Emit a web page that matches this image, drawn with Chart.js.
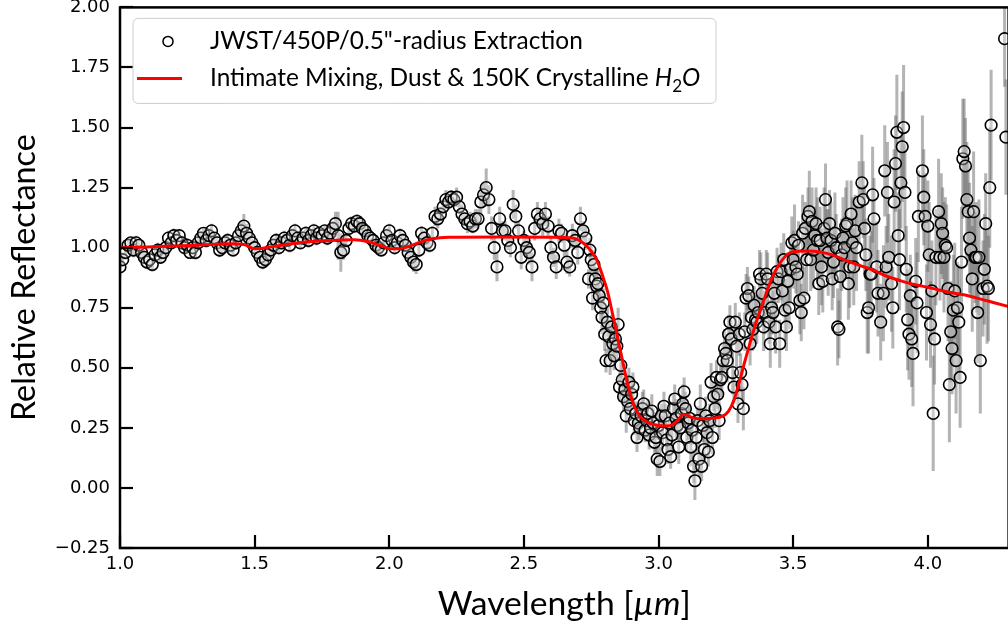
<!DOCTYPE html>
<html>
<head>
<meta charset="utf-8">
<title>Relative Reflectance</title>
<script src="https://cdn.jsdelivr.net/npm/chart.js@4.4.1/dist/chart.umd.min.js"></script>
<style>
  html, body { margin: 0; padding: 0; background: #fff; overflow: hidden; }
  #spectrumChart { display: block; }
</style>
</head>
<body>
<canvas id="spectrumChart" width="1016" height="628"></canvas>
<script>
// Axis limits and tick values
const xRange = [1.0, 4.3];
const yRange = [-0.25, 2.0];
const xTicks = [1.0, 1.5, 2.0, 2.5, 3.0, 3.5, 4.0];
const yTicks = [-0.25, 0.0, 0.25, 0.5, 0.75, 1.0, 1.25, 1.5, 1.75, 2.0];

// Legend labels
const dataLabel = 'JWST/450P/0.5"-radius Extraction';
const modelLabel = "Intimate Mixing, Dust & 150K Crystalline ";

// Measured spectrum: wavelength [um]
const wavelength = [
  1.00,1.01,1.02,1.03,1.04,1.05,1.06,1.07,1.08,1.09,
  1.10,1.11,1.12,1.13,1.14,1.15,1.16,1.17,1.18,1.19,
  1.20,1.21,1.22,1.23,1.24,1.25,1.26,1.27,1.28,1.29,
  1.30,1.31,1.32,1.33,1.34,1.35,1.36,1.37,1.38,1.39,
  1.40,1.41,1.42,1.43,1.44,1.45,1.46,1.47,1.48,1.49,
  1.50,1.51,1.52,1.53,1.54,1.55,1.56,1.57,1.58,1.59,
  1.60,1.61,1.62,1.63,1.64,1.65,1.66,1.67,1.68,1.69,
  1.70,1.71,1.72,1.73,1.74,1.75,1.76,1.77,1.78,1.79,
  1.80,1.81,1.82,1.83,1.84,1.85,1.86,1.87,1.88,1.89,
  1.90,1.91,1.92,1.93,1.94,1.95,1.96,1.97,1.98,1.99,
  2.00,2.01,2.02,2.03,2.04,2.05,2.06,2.07,2.08,2.09,
  2.10,2.11,2.12,2.13,2.14,2.15,2.16,2.17,2.18,2.19,
  2.20,2.21,2.22,2.23,2.24,2.25,2.26,2.27,2.28,2.29,
  2.30,2.31,2.32,2.33,2.34,2.35,2.36,2.37,2.38,2.39,
  2.40,2.41,2.42,2.43,2.44,2.45,2.46,2.47,2.48,2.49,
  2.50,2.51,2.52,2.53,2.54,2.55,2.56,2.57,2.58,2.59,
  2.60,2.61,2.62,2.63,2.64,2.65,2.66,2.67,2.68,2.69,
  2.70,2.71,2.72,2.73,2.74,
  2.745,2.750,2.755,2.760,2.765,2.770,2.775,2.780,2.785,2.790,
  2.795,2.800,2.805,2.810,2.815,2.820,2.825,2.830,2.835,2.840,
  2.845,2.850,2.855,2.860,2.865,2.870,2.875,2.880,2.885,2.890,
  2.895,2.900,2.905,2.910,2.915,2.920,2.925,2.930,2.935,2.940,
  2.945,2.950,2.955,2.960,2.965,2.970,2.975,2.980,2.985,2.990,
  2.995,3.000,3.005,3.010,3.015,3.020,3.025,3.030,3.035,3.040,
  3.045,3.050,3.055,3.060,3.065,3.070,3.075,3.080,3.085,3.090,
  3.095,3.100,3.105,3.110,3.115,3.120,3.125,3.130,3.135,3.140,
  3.145,3.150,3.155,3.160,3.165,3.170,3.175,3.180,3.185,3.190,
  3.195,3.200,3.205,3.210,3.215,3.220,3.225,3.230,3.235,3.240,
  3.245,3.250,3.255,3.260,3.265,3.270,3.275,3.280,3.285,3.290,
  3.295,3.300,3.305,3.310,3.315,3.320,3.325,3.330,3.335,3.340,
  3.345,3.350,3.355,3.360,3.365,3.370,3.375,3.380,3.385,3.390,
  3.395,3.400,3.405,3.410,3.415,3.420,3.425,3.430,3.435,3.440,
  3.445,
  3.450,3.455,3.460,3.465,3.470,3.475,3.480,3.485,3.490,3.495,
  3.500,3.505,3.510,3.515,3.520,3.525,3.530,3.535,3.540,3.545,
  3.550,3.555,3.560,3.565,3.570,3.575,3.580,3.585,3.590,3.595,
  3.600,3.605,3.610,3.615,3.620,3.625,3.630,3.635,3.640,3.645,
  3.650,3.655,3.660,3.665,3.670,3.675,3.680,3.685,3.690,3.695,
  3.700,3.705,3.710,3.715,3.720,3.725,3.730,3.735,3.745,3.755,
  3.760,3.765,3.770,3.775,3.780,3.785,3.790,3.795,3.800,3.810,
  3.815,3.825,3.835,3.840,3.845,3.850,3.855,3.865,3.870,3.875,
  3.880,3.885,3.890,3.895,3.900,3.905,3.910,3.915,3.920,3.925,
  3.930,3.935,3.940,3.945,3.955,3.960,3.965,3.980,3.985,3.990,
  3.995,4.000,4.005,4.010,4.015,4.020,4.025,4.030,4.040,4.045,
  4.050,4.055,4.060,4.065,4.070,4.075,4.080,4.085,4.090,4.095,
  4.100,4.105,4.110,4.115,4.120,4.125,4.130,4.135,4.140,4.145,
  4.150,4.155,4.160,4.165,4.170,4.175,4.180,4.185,4.190,4.195,
  4.205,4.210,4.215,4.220,4.225,4.230,4.235,4.285,4.290,
];

// Measured spectrum: relative reflectance
const reflectance = [
  0.92,0.95,0.98,1.01,1.02,0.99,1.02,1.01,0.98,0.96,
  0.94,0.95,0.93,0.97,0.99,0.96,0.98,1.00,1.04,1.02,
  1.05,1.03,1.05,1.02,1.00,1.01,0.98,1.00,0.98,1.02,
  1.04,1.06,1.03,1.05,1.07,1.04,1.02,0.99,1.00,1.02,
  1.03,1.01,0.99,1.02,1.05,1.07,1.09,1.06,1.04,1.02,
  1.00,0.98,0.96,0.94,0.95,0.97,0.99,1.01,1.03,1.00,
  1.02,1.04,1.03,1.01,1.05,1.07,1.04,1.02,1.04,1.06,
  1.03,1.05,1.07,1.04,1.06,1.05,1.07,1.04,1.06,1.08,
  1.10,1.05,0.98,0.99,1.03,1.08,1.10,1.09,1.11,1.10,
  1.08,1.07,1.05,1.04,1.03,1.01,1.00,0.99,1.02,1.05,
  1.07,1.03,1.00,1.02,1.05,1.03,1.01,0.98,0.96,0.94,
  0.93,0.99,1.06,1.04,1.02,1.01,1.06,1.13,1.12,1.14,
  1.17,1.20,1.19,1.21,1.20,1.21,1.17,1.14,1.12,1.10,
  1.11,1.09,1.12,1.12,1.19,1.22,1.25,1.20,1.08,1.00,
  0.92,1.12,1.07,1.07,1.03,1.00,1.18,1.13,1.07,0.96,
  1.03,1.00,0.98,0.92,1.08,1.14,1.12,1.10,1.14,1.09,
  1.00,0.96,0.92,1.07,1.06,1.01,0.94,0.92,1.05,1.03,
  0.98,1.12,1.07,1.04,0.87,
  0.99,0.95,0.79,0.93,0.87,0.84,0.85,0.80,0.75,0.71,
  0.77,0.64,0.53,0.69,0.63,0.53,0.67,0.60,0.55,0.62,
  0.59,0.68,0.42,0.51,0.45,0.38,0.41,0.30,0.36,0.44,
  0.33,0.39,0.42,0.28,0.31,0.21,0.27,0.25,0.30,0.33,
  0.35,0.24,0.28,0.31,0.22,0.25,0.32,0.27,0.19,0.21,
  0.12,0.26,0.11,0.30,0.23,0.34,0.30,0.20,0.16,0.27,
  0.13,0.22,0.33,0.37,0.29,0.26,0.17,0.25,0.31,0.35,
  0.40,0.33,0.21,0.27,0.29,0.17,0.24,0.09,0.03,0.21,
  0.28,0.12,0.35,0.09,0.26,0.16,0.30,0.23,0.15,0.28,
  0.44,0.21,0.38,0.33,0.46,0.39,0.28,0.45,0.46,0.53,
  0.58,0.56,0.53,0.64,0.69,0.62,0.48,0.42,0.69,0.59,
  0.35,0.64,0.48,0.43,0.33,0.65,0.79,0.83,0.80,0.60,
  0.71,0.66,0.76,0.70,0.69,0.73,0.89,0.87,0.81,0.67,
  0.73,0.89,0.87,0.69,0.60,0.75,0.73,0.81,0.67,0.90,
  0.87,
  0.60,0.90,0.82,0.95,0.74,0.67,0.86,0.75,0.91,1.02,
  0.95,1.03,0.92,0.89,1.01,0.78,0.73,1.06,0.79,1.08,
  0.95,1.13,1.15,0.95,1.11,0.99,1.05,1.10,1.03,0.85,
  1.03,0.92,0.86,1.08,1.20,1.04,0.98,1.10,1.03,0.87,
  0.94,1.06,1.00,0.67,0.66,0.88,0.97,1.04,1.00,1.09,
  1.10,0.85,0.92,1.14,1.02,0.92,1.07,1.00,1.19,1.27,
  1.20,1.08,0.97,0.73,0.75,0.89,0.89,1.22,1.12,0.92,
  0.81,0.69,0.81,1.32,0.92,1.23,0.96,0.85,0.75,1.19,
  1.35,1.48,1.05,0.95,1.27,1.42,1.50,1.23,0.91,0.70,
  0.64,0.80,0.62,0.56,0.86,0.77,1.13,1.32,1.21,1.13,
  0.73,1.09,0.97,0.68,0.82,0.31,0.62,0.96,1.15,0.96,
  1.10,1.06,0.96,1.01,1.00,0.83,0.43,0.65,0.58,0.74,
  0.82,0.53,0.75,0.69,0.46,0.94,1.37,1.40,1.34,1.20,
  1.15,1.04,0.99,0.87,1.15,0.96,0.96,0.73,0.96,0.53,
  0.83,0.91,1.10,0.84,0.83,1.25,1.51,1.87,1.46,
];

// Measured spectrum: 1-sigma uncertainty
const uncertainty = [
  0.04,0.03,0.03,0.03,0.02,0.03,0.03,0.02,0.03,0.03,
  0.03,0.02,0.03,0.03,0.03,0.02,0.03,0.03,0.03,0.02,
  0.03,0.03,0.02,0.03,0.03,0.03,0.02,0.03,0.03,0.03,
  0.03,0.02,0.03,0.03,0.03,0.02,0.03,0.03,0.02,0.03,
  0.03,0.03,0.02,0.03,0.03,0.04,0.05,0.04,0.03,0.03,
  0.03,0.03,0.02,0.03,0.03,0.03,0.02,0.03,0.03,0.03,
  0.03,0.03,0.02,0.03,0.03,0.03,0.03,0.02,0.03,0.03,
  0.03,0.02,0.03,0.03,0.03,0.03,0.02,0.03,0.03,0.03,
  0.05,0.10,0.08,0.04,0.03,0.03,0.03,0.02,0.03,0.03,
  0.03,0.03,0.03,0.02,0.03,0.03,0.03,0.02,0.03,0.03,
  0.03,0.03,0.03,0.03,0.03,0.03,0.03,0.04,0.04,0.04,
  0.04,0.03,0.03,0.03,0.03,0.03,0.03,0.04,0.04,0.03,
  0.03,0.04,0.03,0.03,0.03,0.04,0.03,0.04,0.03,0.04,
  0.04,0.03,0.04,0.04,0.06,0.05,0.08,0.06,0.05,0.05,
  0.06,0.05,0.04,0.04,0.04,0.04,0.06,0.05,0.04,0.05,
  0.04,0.04,0.05,0.06,0.05,0.05,0.04,0.05,0.05,0.04,
  0.05,0.04,0.05,0.05,0.04,0.05,0.05,0.04,0.05,0.04,
  0.05,0.05,0.04,0.05,0.04,
  0.05,0.06,0.05,0.06,0.05,0.07,0.06,0.05,0.06,0.07,
  0.06,0.07,0.05,0.06,0.07,0.06,0.05,0.07,0.06,0.05,
  0.06,0.07,0.06,0.05,0.07,0.06,0.05,0.07,0.06,0.06,
  0.05,0.07,0.06,0.06,0.05,0.06,0.07,0.05,0.06,0.07,
  0.06,0.05,0.07,0.06,0.06,0.05,0.07,0.06,0.05,0.06,
  0.07,0.06,0.06,0.05,0.07,0.06,0.05,0.07,0.06,0.06,
  0.05,0.07,0.06,0.06,0.08,0.06,0.07,0.06,0.07,0.08,
  0.06,0.07,0.06,0.07,0.06,0.08,0.06,0.07,0.08,0.07,
  0.06,0.07,0.08,0.06,0.07,0.06,0.08,0.07,0.06,0.07,
  0.08,0.07,0.06,0.08,0.07,0.06,0.08,0.07,0.08,0.07,
  0.08,0.07,0.09,0.08,0.07,0.08,0.09,0.07,0.08,0.09,
  0.08,0.09,0.08,0.07,0.09,0.08,0.10,0.09,0.08,0.09,
  0.10,0.09,0.08,0.10,0.09,0.08,0.10,0.11,0.09,0.10,
  0.09,0.10,0.11,0.09,0.10,0.11,0.09,0.10,0.11,0.10,
  0.10,
  0.10,0.12,0.09,0.11,0.13,0.10,0.12,0.09,0.14,0.11,
  0.12,0.15,0.11,0.13,0.10,0.14,0.12,0.16,0.13,0.11,
  0.15,0.12,0.17,0.13,0.14,0.16,0.12,0.15,0.18,0.13,
  0.14,0.16,0.13,0.17,0.15,0.12,0.18,0.14,0.16,0.13,
  0.15,0.17,0.14,0.16,0.12,0.18,0.15,0.17,0.13,0.16,
  0.18,0.15,0.17,0.14,0.19,0.16,0.15,0.18,0.17,0.20,
  0.16,0.18,0.15,0.17,0.19,0.16,0.18,0.20,0.17,0.19,
  0.18,0.16,0.20,0.19,0.17,0.21,0.18,0.20,0.17,0.22,
  0.20,0.24,0.18,0.21,0.19,0.23,0.26,0.20,0.18,0.21,
  0.19,0.17,0.20,0.22,0.18,0.21,0.19,0.23,0.20,0.18,
  0.20,0.19,0.22,0.18,0.21,0.24,0.19,0.20,0.22,0.18,
  0.21,0.19,0.23,0.20,0.18,0.22,0.24,0.21,0.19,0.23,
  0.20,0.22,0.19,0.24,0.21,0.23,0.25,0.22,0.20,0.24,
  0.21,0.23,0.20,0.22,0.25,0.19,0.23,0.21,0.24,0.22,
  0.20,0.23,0.21,0.24,0.22,0.25,0.23,0.20,0.24,
];

// Radiative transfer model (intimate mixing)
const modelWavelength = [
  1.00,1.10,1.20,1.30,1.40,1.46,1.50,1.53,1.58,1.70,
  1.80,1.87,1.92,1.97,2.00,2.04,2.08,2.12,2.16,2.22,
  2.40,2.60,2.68,2.71,2.73,2.75,2.77,2.79,2.81,2.83,
  2.85,2.87,2.89,2.91,2.93,2.95,2.97,3.00,3.03,3.05,
  3.07,3.09,3.10,3.12,3.15,3.20,3.24,3.26,3.28,3.30,
  3.32,3.34,3.36,3.38,3.40,3.42,3.44,3.46,3.48,3.50,
  3.55,3.60,3.65,3.70,3.75,3.80,3.85,3.90,3.95,4.00,
  4.05,4.10,4.15,4.20,4.25,4.30,
];
const modelReflectance = [
  1.000,1.003,1.007,1.011,1.016,1.013,0.996,0.998,1.007,1.025,
  1.031,1.033,1.026,1.008,0.996,0.996,1.008,1.025,1.037,1.043,
  1.044,1.043,1.040,1.028,1.010,0.985,0.950,0.890,0.820,0.720,
  0.615,0.510,0.410,0.340,0.300,0.280,0.268,0.260,0.258,0.262,
  0.280,0.305,0.306,0.295,0.288,0.290,0.300,0.320,0.365,0.440,
  0.525,0.605,0.680,0.745,0.810,0.870,0.915,0.950,0.973,0.983,
  0.986,0.982,0.968,0.945,0.925,0.905,0.880,0.862,0.847,0.835,
  0.822,0.810,0.800,0.785,0.770,0.755,
];

const TITLE_FONT = "Lato, 'Noto Sans', sans-serif";
const TICK_FONT = "'DejaVu Sans', sans-serif";

// Font size that makes a run of text span the wanted width
const fitSize = (ctx, parts, targetWidth) => {
  let w = 0;
  parts.forEach((p) => {
    ctx.font = `${p.style || "normal"} 100px ${TITLE_FONT}`;
    w += ctx.measureText(p.text).width * (p.scale || 1);
  });
  return (100 * targetWidth) / w;
};

// Draw text pieces (normal / italic / subscript) one after another
const drawRun = (ctx, parts, x, y, size) => {
  parts.forEach((p) => {
    const s = size * (p.scale || 1);
    ctx.font = `${p.style || "normal"} ${s}px ${TITLE_FONT}`;
    ctx.fillText(p.text, x, y + (p.shift || 0) * size);
    x += ctx.measureText(p.text).width;
  });
  return x;
};

// Vertical error bars behind the markers
const drawErrorBars = (chart) => {
  const { ctx, chartArea: a } = chart;
  const xs = chart.scales.x;
  const ys = chart.scales.y;
  const n = Math.min(wavelength.length, reflectance.length, uncertainty.length);
  ctx.save();
  ctx.beginPath();
  ctx.rect(a.left, a.top, a.right - a.left, a.bottom - a.top);
  ctx.clip();
  ctx.strokeStyle = "rgba(105,105,105,0.5)";
  ctx.lineWidth = 3;
  for (let i = 0; i < n; i++) {
    const px = xs.getPixelForValue(wavelength[i]);
    ctx.beginPath();
    ctx.moveTo(px, ys.getPixelForValue(reflectance[i] - uncertainty[i]));
    ctx.lineTo(px, ys.getPixelForValue(reflectance[i] + uncertainty[i]));
    ctx.stroke();
  }
  ctx.restore();
};

// Spines and inward tick marks
const drawFrame = (chart) => {
  const { ctx, chartArea: a } = chart;
  const xs = chart.scales.x;
  const ys = chart.scales.y;
  ctx.save();
  ctx.strokeStyle = "#000";
  ctx.lineWidth = 2.5;
  ctx.strokeRect(a.left, a.top, a.right - a.left, a.bottom - a.top);
  ctx.lineWidth = 2.2;
  xTicks.forEach((v) => {
    const px = Math.round(xs.getPixelForValue(v));
    ctx.beginPath();
    ctx.moveTo(px, a.bottom);
    ctx.lineTo(px, a.bottom - 13);
    ctx.stroke();
  });
  yTicks.forEach((v) => {
    const py = Math.round(ys.getPixelForValue(v));
    ctx.beginPath();
    ctx.moveTo(a.left, py);
    ctx.lineTo(a.left + 13, py);
    ctx.stroke();
  });
  ctx.restore();
};

// Legend box in the upper-left corner of the axes
const drawLegend = (chart) => {
  const { ctx, chartArea: a } = chart;
  const bx = a.left + 13;
  const by = a.top + 11;
  const bw = 583;
  const bh = 85;
  ctx.save();
  ctx.beginPath();
  ctx.roundRect(bx, by, bw, bh, 5);
  ctx.fillStyle = "rgba(255,255,255,0.8)";
  ctx.fill();
  ctx.strokeStyle = "#cccccc";
  ctx.lineWidth = 1;
  ctx.stroke();

  // marker entry
  ctx.beginPath();
  ctx.arc(bx + 35, by + 23, 5, 0, Math.PI * 2);
  ctx.strokeStyle = "#000";
  ctx.lineWidth = 1.5;
  ctx.stroke();

  // line entry
  ctx.beginPath();
  ctx.moveTo(bx + 4, by + 60);
  ctx.lineTo(bx + 49, by + 60);
  ctx.strokeStyle = "#ff0000";
  ctx.lineWidth = 3;
  ctx.stroke();

  const line1 = [{ text: dataLabel }];
  const line2 = [
    { text: modelLabel },
    { text: "H", style: "italic" },
    { text: "2", scale: 0.7, shift: 0.22 },
    { text: "O", style: "italic" },
  ];
  const size = fitSize(ctx, line1, 373);
  ctx.fillStyle = "#000";
  ctx.textBaseline = "alphabetic";
  ctx.textAlign = "left";
  drawRun(ctx, line1, bx + 77, by + 31, size);
  drawRun(ctx, line2, bx + 77, by + 68, size);
  ctx.restore();
};

// Axis titles
const drawAxisTitles = (chart) => {
  const { ctx, chartArea: a } = chart;
  ctx.save();
  ctx.fillStyle = "#000";
  ctx.textBaseline = "alphabetic";
  ctx.textAlign = "left";

  const xTitle = [
    { text: "Wavelength [" },
    { text: "\u00b5m", style: "italic" },
    { text: "]" },
  ];
  const xSize = fitSize(ctx, xTitle, 253);
  let w = 0;
  xTitle.forEach((p) => {
    ctx.font = `${p.style || "normal"} ${xSize}px ${TITLE_FONT}`;
    w += ctx.measureText(p.text).width;
  });
  drawRun(ctx, xTitle, (a.left + a.right) / 2 - w / 2, 615, xSize);

  const yTitle = [{ text: "Relative Reflectance" }];
  const ySize = fitSize(ctx, yTitle, 287);
  ctx.translate(35, (a.top + a.bottom) / 2);
  ctx.rotate(-Math.PI / 2);
  ctx.font = `normal ${ySize}px ${TITLE_FONT}`;
  ctx.textAlign = "center";
  ctx.fillText(yTitle[0].text, 0, 0);
  ctx.restore();
};

const decorPlugin = {
  id: "decor",
  beforeDatasetsDraw(chart) {
    drawErrorBars(chart);
  },
  afterDraw(chart) {
    drawFrame(chart);
    drawLegend(chart);
    drawAxisTitles(chart);
  },
};

const createSpectrumChart = () => {
  const ctx = document.getElementById("spectrumChart").getContext("2d");
  const points = wavelength.map((w, i) => ({ x: w, y: reflectance[i] }));
  const model = modelWavelength.map((w, i) => ({ x: w, y: modelReflectance[i] }));

  new Chart(ctx, {
    type: "scatter",
    data: {
      datasets: [
        {
          label: modelLabel + "H2O",
          data: model,
          showLine: true,
          borderColor: "#ff0000",
          borderWidth: 3,
          pointRadius: 0,
          cubicInterpolationMode: "monotone",
          order: 0,
        },
        {
          label: dataLabel,
          data: points,
          showLine: false,
          pointRadius: 5.8,
          pointBorderWidth: 1.6,
          pointBorderColor: "#000",
          pointBackgroundColor: "rgba(255,255,255,0.3)",
          order: 1,
        },
      ],
    },
    options: {
      responsive: false,
      animation: false,
      devicePixelRatio: 1,
      layout: { padding: { top: 7, right: 3, left: 0, bottom: 0 } },
      plugins: {
        legend: { display: false },
        tooltip: { enabled: false },
      },
      scales: {
        x: {
          type: "linear",
          min: xRange[0],
          max: xRange[1],
          grid: { display: false, drawTicks: false },
          border: { display: false },
          afterBuildTicks: (scale) => {
            scale.ticks = xTicks.map((v) => ({ value: v }));
          },
          afterFit: (scale) => {
            scale.height = 80;
            scale.paddingLeft = 0;
            scale.paddingRight = 0;
          },
          ticks: {
            autoSkip: false,
            maxRotation: 0,
            padding: 6,
            color: "#000",
            font: { family: TICK_FONT, size: 18 },
            callback: (v) => Number(v).toFixed(1),
          },
        },
        y: {
          type: "linear",
          min: yRange[0],
          max: yRange[1],
          grid: { display: false, drawTicks: false },
          border: { display: false },
          afterBuildTicks: (scale) => {
            scale.ticks = yTicks.map((v) => ({ value: v }));
          },
          afterFit: (scale) => {
            scale.width = 120;
            scale.paddingTop = 0;
            scale.paddingBottom = 0;
          },
          ticks: {
            autoSkip: false,
            padding: 10,
            color: "#000",
            font: { family: TICK_FONT, size: 18 },
            callback: (v) => {
              const s = Math.abs(v).toFixed(2);
              return v < 0 ? "\u2212" + s : s;
            },
          },
        },
      },
    },
    plugins: [decorPlugin],
  });
};

document.addEventListener("DOMContentLoaded", () => {
  document.fonts
    .load(`24px ${TITLE_FONT}`)
    .catch(() => null)
    .then(createSpectrumChart);
});
</script>
</body>
</html>
